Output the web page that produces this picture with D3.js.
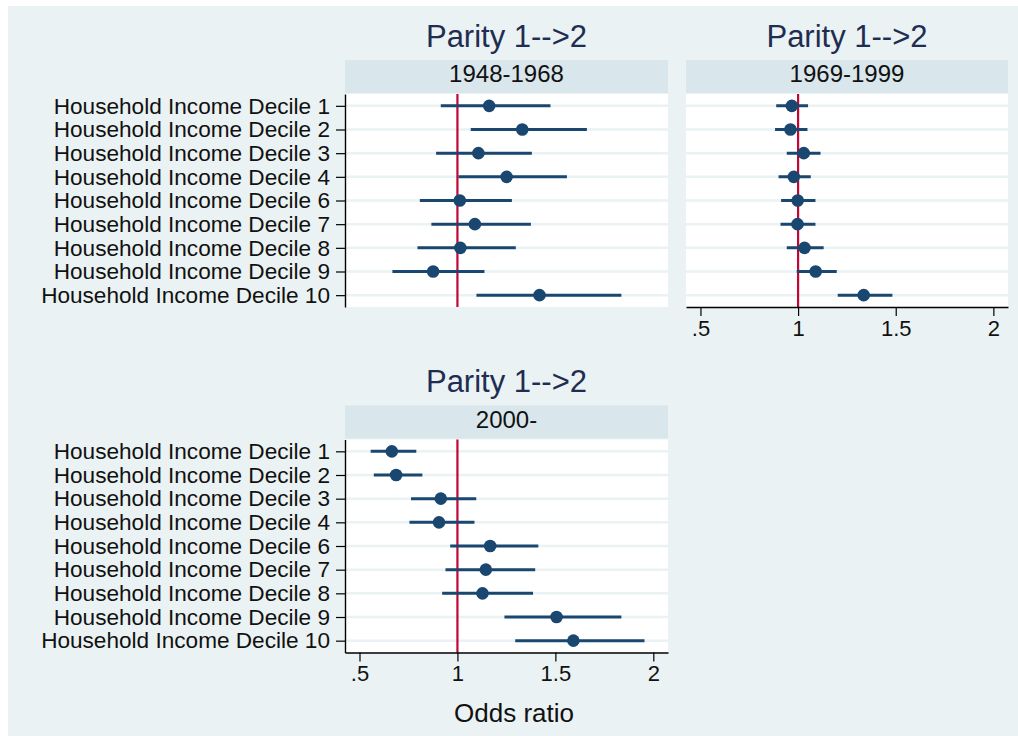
<!DOCTYPE html>
<html>
<head>
<meta charset="utf-8">
<script src="https://cdn.jsdelivr.net/npm/d3@7"></script>
<style>
  html, body { margin: 0; padding: 0; background: #ffffff; }
  svg { display: block; }
  text { font-family: "Liberation Sans", Arial, Helvetica, sans-serif; }
</style>
</head>
<body>
<svg id="chart" width="1018" height="736"></svg>
<script>
// Income deciles (decile 5 is the reference category)
const categories = [
  "Household Income Decile 1", "Household Income Decile 2", "Household Income Decile 3",
  "Household Income Decile 4", "Household Income Decile 6", "Household Income Decile 7",
  "Household Income Decile 8", "Household Income Decile 9", "Household Income Decile 10"
];

// Odds ratios with 95% confidence bounds, by period of birth cohort
const est1948 = [1.162, 1.331, 1.107, 1.251, 1.012, 1.089, 1.015, 0.876, 1.419];
const lo1948  = [0.915, 1.068, 0.891, 1.005, 0.808, 0.867, 0.796, 0.668, 1.097];
const hi1948  = [1.475, 1.661, 1.380, 1.559, 1.278, 1.375, 1.298, 1.138, 1.837];

const est1969 = [0.968, 0.961, 1.029, 0.978, 0.998, 0.997, 1.033, 1.090, 1.336];
const lo1969  = [0.888, 0.882, 0.942, 0.900, 0.913, 0.910, 0.942, 0.993, 1.203];
const hi1969  = [1.051, 1.048, 1.115, 1.065, 1.089, 1.089, 1.131, 1.198, 1.483];

const est2000 = [0.665, 0.687, 0.915, 0.906, 1.167, 1.145, 1.128, 1.506, 1.592];
const lo2000  = [0.557, 0.573, 0.763, 0.755, 0.963, 0.939, 0.922, 1.240, 1.295];
const hi2000  = [0.790, 0.821, 1.096, 1.087, 1.413, 1.397, 1.386, 1.837, 1.955];

const panelTitles = ["1948-1968", "1969-1999", "2000-"];
const mainTitle = "Parity 1-->2";
const xTicks = [0.5, 1, 1.5, 2];
const xTickLabels = [".5", "1", "1.5", "2"];
const xTitle = "Odds ratio";
const xDomain = [0.426, 2.075];
const refValue = 1;

const colors = {
  graphBg: "#eaf2f3",
  plotBg: "#ffffff",
  strip: "#d9e6eb",
  grid: "#eaf2f3",
  marker: "#1a476f",
  refLine: "#c10534",
  title: "#1f2d52",
  text: "#111111",
  axis: "#000000"
};

const svg = d3.select("#chart");

// graph region background
svg.append("rect").attr("x", 8).attr("y", 6).attr("width", 1010).attr("height", 730)
  .attr("fill", colors.graphBg);

const panels = [
  { title: panelTitles[0], est: est1948, lo: lo1948, hi: hi1948, x: 345, y: 94, w: 323, h: 213, yAxis: true, xAxis: false },
  { title: panelTitles[1], est: est1969, lo: lo1969, hi: hi1969, x: 686, y: 94, w: 322, h: 213, yAxis: false, xAxis: true },
  { title: panelTitles[2], est: est2000, lo: lo2000, hi: hi2000, x: 345, y: 439.5, w: 323, h: 213, yAxis: true, xAxis: true }
];

panels.forEach(p => {
  const g = svg.append("g").attr("transform", `translate(${p.x},${p.y})`);
  const x = d3.scaleLinear().domain(xDomain).range([0, p.w]);
  const y = d3.scalePoint().domain(categories).range([0, p.h]).padding(0.5);

  // main title and strip header
  g.append("text").attr("x", p.w / 2).attr("y", -47.3)
    .attr("text-anchor", "middle").attr("font-size", 31).attr("fill", colors.title)
    .text(mainTitle);
  g.append("rect").attr("x", 0).attr("y", -34).attr("width", p.w).attr("height", 33)
    .attr("fill", colors.strip);
  g.append("text").attr("x", p.w / 2).attr("y", -11.7)
    .attr("text-anchor", "middle").attr("font-size", 24).attr("fill", colors.text)
    .text(p.title);

  // plot region
  g.append("rect").attr("width", p.w).attr("height", p.h).attr("fill", colors.plotBg);

  // horizontal grid lines at each category
  g.selectAll("line.grid").data(categories).join("line").attr("class", "grid")
    .attr("x1", 0).attr("x2", p.w)
    .attr("y1", d => y(d)).attr("y2", d => y(d))
    .attr("stroke", colors.grid).attr("stroke-width", 2.5);

  // reference line at odds ratio 1
  g.append("line").attr("x1", x(refValue)).attr("x2", x(refValue))
    .attr("y1", 0).attr("y2", p.h)
    .attr("stroke", colors.refLine).attr("stroke-width", 2.2);

  const rows = categories.map((c, i) => ({ c, est: p.est[i], lo: p.lo[i], hi: p.hi[i] }));

  // confidence intervals
  g.selectAll("line.ci").data(rows).join("line").attr("class", "ci")
    .attr("x1", d => x(d.lo)).attr("x2", d => x(d.hi))
    .attr("y1", d => y(d.c)).attr("y2", d => y(d.c))
    .attr("stroke", colors.marker).attr("stroke-width", 3);

  // point estimates
  g.selectAll("circle.pt").data(rows).join("circle").attr("class", "pt")
    .attr("cx", d => x(d.est)).attr("cy", d => y(d.c)).attr("r", 6.3)
    .attr("fill", colors.marker);

  if (p.yAxis) {
    const ya = g.append("g").call(d3.axisLeft(y).tickSize(9).tickSizeOuter(0).tickPadding(6));
    ya.select(".domain").attr("stroke", colors.axis).attr("stroke-width", 1.4);
    ya.selectAll(".tick line").attr("stroke", colors.axis).attr("stroke-width", 1.2);
    ya.selectAll(".tick text").attr("font-size", 22.6).attr("fill", colors.text)
      .attr("font-family", "\"Liberation Sans\", Arial, sans-serif");
  }

  if (p.xAxis) {
    const xa = g.append("g").attr("transform", `translate(0,${p.h})`)
      .call(d3.axisBottom(x).tickValues(xTicks)
        .tickFormat((d, i) => xTickLabels[i])
        .tickSize(9).tickSizeOuter(0).tickPadding(4));
    xa.select(".domain").attr("stroke", colors.axis).attr("stroke-width", 1.4);
    xa.selectAll(".tick line").attr("stroke", colors.axis).attr("stroke-width", 1.2);
    xa.selectAll(".tick text").attr("font-size", 22).attr("fill", colors.text)
      .attr("font-family", "\"Liberation Sans\", Arial, sans-serif");
  }
});

// shared x-axis title
svg.append("text").attr("x", 514).attr("y", 721.7)
  .attr("text-anchor", "middle").attr("font-size", 26).attr("fill", colors.text)
  .text(xTitle);
</script>
</body>
</html>
